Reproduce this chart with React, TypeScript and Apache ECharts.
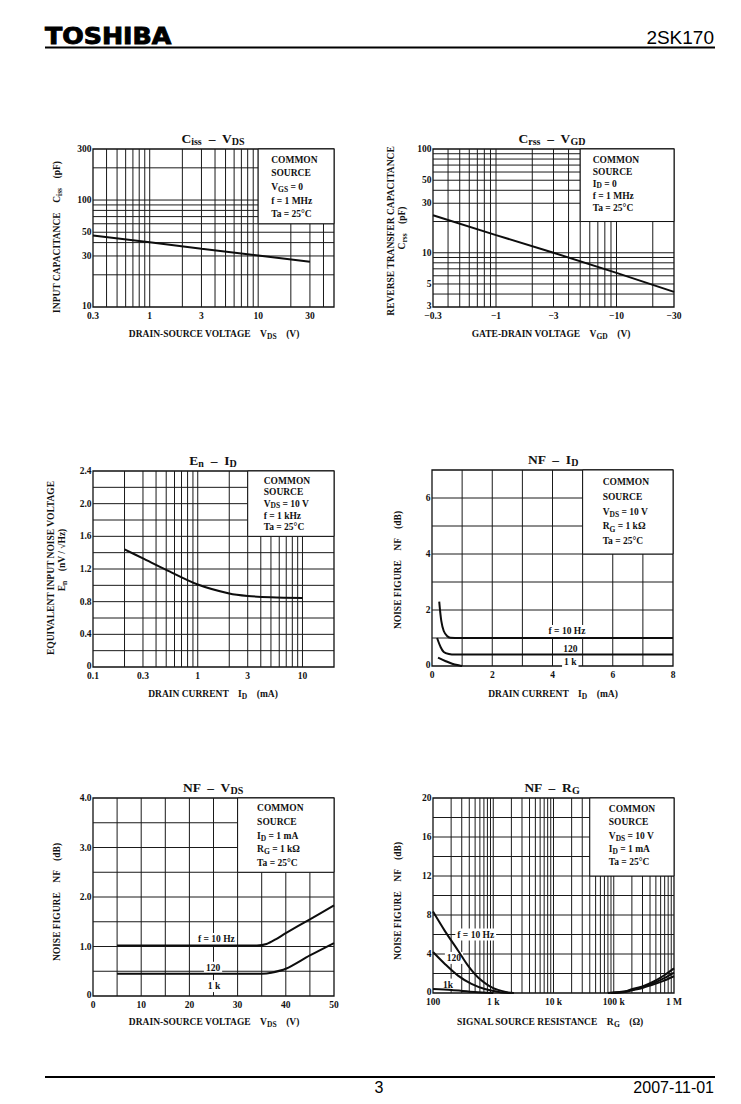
import React, { useEffect, useRef } from "react";
import * as echarts from "echarts";

const SERIF = '"Liberation Serif", "DejaVu Serif", serif';
const SANS = '"Liberation Sans", Arial, sans-serif';
const INK = "#111";

// ---------- Panel 1: Ciss – VDS ----------
const cissVds = [0.3, 1, 3, 10, 30];
const cissPf = [46.5, 40.3, 35, 30.3, 26.5];
const cissXTicks = [0.3, 1, 3, 10, 30];
const cissXTickLabels = ["0.3", "1", "3", "10", "30"];
const cissYTicks = [10, 30, 50, 100, 300];
const cissYTickLabels = ["10", "30", "50", "100", "300"];

// ---------- Panel 2: Crss – VGD (|VGD|) ----------
const crssVgd = [0.3, 1, 3, 10, 30];
const crssPf = [23, 14.8, 10, 6.4, 4.2];
const crssXTicks = [0.3, 1, 3, 10, 30];
const crssXTickLabels = ["\u22120.3", "\u22121", "\u22123", "\u221210", "\u221230"];
const crssYTicks = [3, 5, 10, 30, 50, 100];
const crssYTickLabels = ["3", "5", "10", "30", "50", "100"];

// ---------- Panel 3: En – ID ----------
const enId = [0.2, 0.3, 0.5, 1, 2, 3, 5, 10];
const enNv = [1.44, 1.33, 1.19, 1.01, 0.9, 0.87, 0.855, 0.845];
const enXTicks = [0.1, 0.3, 1, 3, 10];
const enXTickLabels = ["0.1", "0.3", "1", "3", "10"];
const enYTicks = [0, 0.4, 0.8, 1.2, 1.6, 2.0, 2.4];
const enYTickLabels = ["0", "0.4", "0.8", "1.2", "1.6", "2.0", "2.4"];
const enHLines = [0.2, 0.4, 0.6, 0.8, 1.0, 1.2, 1.4, 1.6, 1.8, 2.0, 2.2];

// ---------- Panel 4: NF – ID ----------
const nfId10HzX = [0.24, 0.31, 0.39, 0.5, 0.61, 1, 8];
const nfId10HzY = [2.3, 1.6, 1.25, 1.07, 1.01, 1.0, 1.0];
const nfId120X = [0.17, 0.28, 0.39, 0.56, 0.78, 1, 8];
const nfId120Y = [1.0, 0.69, 0.5, 0.43, 0.41, 0.41, 0.41];
const nfId1kX = [0.2, 0.44, 0.67, 0.94, 1.0];
const nfId1kY = [0.3, 0.18, 0.08, 0.01, 0];
const nfIdXTicks = [0, 2, 4, 6, 8];
const nfIdYTicks = [0, 2, 4, 6];
const nfIdVLines = [1, 2, 3, 4, 5, 6, 7];
const nfIdHLines = [1, 2, 3, 4, 5, 6];

// ---------- Panel 5: NF – VDS ----------
const nfVds10HzX = [5, 34, 36, 38, 40, 45, 50];
const nfVds10HzY = [1.02, 1.02, 1.05, 1.15, 1.27, 1.55, 1.83];
const nfVds120X = [5, 35, 37, 40, 45, 50];
const nfVds120Y = [0.45, 0.45, 0.47, 0.55, 0.82, 1.07];
const nfVdsXTicks = [0, 10, 20, 30, 40, 50];
const nfVdsYTicks = [0, 1, 2, 3, 4];
const nfVdsYTickLabels = ["0", "1.0", "2.0", "3.0", "4.0"];
const nfVdsVLines = [5, 10, 15, 20, 25, 30, 35, 40, 45];
const nfVdsHLines = [0.5, 1, 1.5, 2, 2.5, 3, 3.5];

// ---------- Panel 6: NF – RG ----------
const nfRgL10HzX = [100, 156, 260, 381, 560, 1000, 1760, 2200];
const nfRgL10HzY = [8.35, 6.4, 4.36, 2.8, 1.6, 0.5, 0.06, 0];
const nfRgL120X = [100, 156, 260, 435, 724, 1370, 2000];
const nfRgL120Y = [4.2, 3.0, 1.78, 0.93, 0.41, 0.06, 0];
const nfRgL1kX = [100, 202, 493, 1000];
const nfRgL1kY = [0.41, 0.3, 0.1, 0];
const nfRgRAX = [80000, 150000, 200000, 300000, 500000, 700000, 1000000];
const nfRgRAY = [0, 0.15, 0.38, 0.68, 1.3, 1.85, 2.53];
const nfRgRBX = [90000, 150000, 200000, 300000, 500000, 700000, 1000000];
const nfRgRBY = [0, 0.12, 0.32, 0.6, 1.12, 1.55, 2.1];
const nfRgRCX = [100000, 150000, 200000, 300000, 500000, 700000, 1000000];
const nfRgRCY = [0, 0.1, 0.28, 0.52, 0.96, 1.3, 1.72];
const nfRgXTicks = [100, 1000, 10000, 100000, 1000000];
const nfRgXTickLabels = ["100", "1 k", "10 k", "100 k", "1 M"];
const nfRgYTicks = [0, 4, 8, 12, 16, 20];
const nfRgHLines = [2, 4, 6, 8, 10, 12, 14, 16, 18];

// grid line positions of a 1-2-...-9 log grid strictly inside (lo, hi)
function logGrid(lo: number, hi: number): number[] {
  const out: number[] = [];
  for (let k = -3; k <= 7; k++) {
    for (let m = 1; m <= 9; m++) {
      const v = +(m * Math.pow(10, k)).toPrecision(6);
      if (v > lo * 1.0001 && v < hi * 0.9999) out.push(v);
    }
  }
  return out;
}

const zip = (xs: number[], ys: number[]) => xs.map((x, i) => [x, ys[i]]);

interface Panel {
  grid: { left: number; top: number; width: number; height: number };
  xLog: boolean;
  yLog: boolean;
  xMin: number;
  xMax: number;
  yMin: number;
  yMax: number;
  vLines: number[];
  hLines: number[];
  xTicks: number[];
  xTickLabels: string[];
  yTicks: number[];
  yTickLabels: string[];
  box: [number, number, number, number];
  boxText: string[];
  boxPad: [number, number];
  boxLine: number;
  labels: { x: number; y: number; text: string }[];
  curves: { data: number[][]; smooth: boolean }[];
}

const panels: Panel[] = [
  {
    grid: { left: 93, top: 149, width: 241, height: 158 },
    xLog: true, yLog: true, xMin: 0.3, xMax: 50, yMin: 10, yMax: 300,
    vLines: logGrid(0.3, 50), hLines: logGrid(10, 300),
    xTicks: cissXTicks, xTickLabels: cissXTickLabels,
    yTicks: cissYTicks, yTickLabels: cissYTickLabels,
    box: [10, 60, 50, 300],
    boxText: ["COMMON", "SOURCE", "V{s|GS} = 0", "f = 1 MHz", "Ta = 25°C"],
    boxPad: [13, 4], boxLine: 13.6,
    labels: [],
    curves: [{ data: zip(cissVds, cissPf), smooth: false }],
  },
  {
    grid: { left: 433, top: 149, width: 241, height: 158 },
    xLog: true, yLog: true, xMin: 0.3, xMax: 30, yMin: 3, yMax: 100,
    vLines: logGrid(0.3, 30), hLines: logGrid(3, 100),
    xTicks: crssXTicks, xTickLabels: crssXTickLabels,
    yTicks: crssYTicks, yTickLabels: crssYTickLabels,
    box: [5, 20, 30, 100],
    boxText: ["COMMON", "SOURCE", "I{s|D} = 0", "f = 1 MHz", "Ta = 25°C"],
    boxPad: [12.5, 4.5], boxLine: 12.1,
    labels: [],
    curves: [{ data: zip(crssVgd, crssPf), smooth: false }],
  },
  {
    grid: { left: 93, top: 471, width: 241, height: 196 },
    xLog: true, yLog: false, xMin: 0.1, xMax: 20, yMin: 0, yMax: 2.4,
    vLines: logGrid(0.1, 20), hLines: enHLines,
    xTicks: enXTicks, xTickLabels: enXTickLabels,
    yTicks: enYTicks, yTickLabels: enYTickLabels,
    box: [3, 1.6, 20, 2.4],
    boxText: ["COMMON", "SOURCE", "V{s|DS} = 10 V", "f = 1 kHz", "Ta = 25°C"],
    boxPad: [16, 4], boxLine: 11.6,
    labels: [],
    curves: [{ data: zip(enId, enNv), smooth: true }],
  },
  {
    grid: { left: 432, top: 470, width: 241, height: 196 },
    xLog: false, yLog: false, xMin: 0, xMax: 8, yMin: 0, yMax: 7,
    vLines: nfIdVLines, hLines: nfIdHLines,
    xTicks: nfIdXTicks, xTickLabels: nfIdXTicks.map(String),
    yTicks: nfIdYTicks, yTickLabels: nfIdYTicks.map(String),
    box: [5, 4, 8, 7],
    boxText: ["COMMON", "SOURCE", "V{s|DS} = 10 V", "R{s|G} = 1 kΩ", "Ta = 25°C"],
    boxPad: [20, 5], boxLine: 14.6,
    labels: [
      { x: 4.48, y: 1.25, text: "f = 10 Hz" },
      { x: 4.59, y: 0.6, text: "120" },
      { x: 4.59, y: 0.15, text: "1 k" },
    ],
    curves: [
      { data: zip(nfId10HzX, nfId10HzY), smooth: true },
      { data: zip(nfId120X, nfId120Y), smooth: true },
      { data: zip(nfId1kX, nfId1kY), smooth: true },
    ],
  },
  {
    grid: { left: 93, top: 798, width: 241, height: 198 },
    xLog: false, yLog: false, xMin: 0, xMax: 50, yMin: 0, yMax: 4,
    vLines: nfVdsVLines, hLines: nfVdsHLines,
    xTicks: nfVdsXTicks, xTickLabels: nfVdsXTicks.map(String),
    yTicks: nfVdsYTicks, yTickLabels: nfVdsYTickLabels,
    box: [30, 2.5, 50, 4],
    boxText: ["COMMON", "SOURCE", "I{s|D} = 1 mA", "R{s|G} = 1 kΩ", "Ta = 25°C"],
    boxPad: [19.5, 3.5], boxLine: 13.6,
    labels: [
      { x: 25.6, y: 1.15, text: "f = 10 Hz" },
      { x: 24.9, y: 0.57, text: "120" },
      { x: 25.1, y: 0.2, text: "1 k" },
    ],
    curves: [
      { data: zip(nfVds10HzX, nfVds10HzY), smooth: true },
      { data: zip(nfVds120X, nfVds120Y), smooth: true },
    ],
  },
  {
    grid: { left: 433, top: 798, width: 241, height: 195 },
    xLog: true, yLog: false, xMin: 100, xMax: 1000000, yMin: 0, yMax: 20,
    vLines: logGrid(100, 1000000), hLines: nfRgHLines,
    xTicks: nfRgXTicks, xTickLabels: nfRgXTickLabels,
    yTicks: nfRgYTicks, yTickLabels: nfRgYTicks.map(String),
    box: [40000, 12, 1000000, 20],
    boxText: ["COMMON", "SOURCE", "V{s|DS} = 10 V", "I{s|D} = 1 mA", "Ta = 25°C"],
    boxPad: [19, 4], boxLine: 13.4,
    labels: [
      { x: 512, y: 6.0, text: "f = 10 Hz" },
      { x: 223, y: 3.6, text: "120" },
      { x: 177, y: 0.86, text: "1k" },
    ],
    curves: [
      { data: zip(nfRgL10HzX, nfRgL10HzY), smooth: true },
      { data: zip(nfRgL120X, nfRgL120Y), smooth: true },
      { data: zip(nfRgL1kX, nfRgL1kY), smooth: true },
      { data: zip(nfRgRAX, nfRgRAY), smooth: true },
      { data: zip(nfRgRBX, nfRgRBY), smooth: true },
      { data: zip(nfRgRCX, nfRgRCY), smooth: true },
    ],
  },
];

// rich text style with a subscript token "s"
function richStyle(size: number, subSize: number, weight: string, lh: number, drop: number) {
  const subLH = Math.max(2, lh - 2 * drop + 0.64 * (subSize - size));
  return {
    fontSize: size,
    fontFamily: SERIF,
    fontWeight: weight,
    fill: INK,
    lineHeight: lh,
    rich: {
      s: {
        fontSize: subSize,
        fontFamily: SERIF,
        fontWeight: weight,
        fill: INK,
        lineHeight: subLH,
        verticalAlign: "bottom",
      },
    },
  };
}

const tickStyle = { fontSize: 9.5, fontFamily: SERIF, fontWeight: "bold", fill: INK };

function makeRenderer(p: Panel) {
  return (_params: any, api: any) => {
    const ch: any[] = [];
    const [L, B] = api.coord([p.xMin, p.yMin]);
    const [R, T] = api.coord([p.xMax, p.yMax]);
    const ln = (x1: number, y1: number, x2: number, y2: number) => ({
      type: "line",
      shape: { x1, y1, x2, y2 },
      style: { stroke: "#1a1a1a", lineWidth: 1 },
    });
    for (const v of p.vLines) {
      const x = api.coord([v, p.yMin])[0];
      ch.push(ln(x, T, x, B));
    }
    for (const v of p.hLines) {
      const y = api.coord([p.xMin, v])[1];
      ch.push(ln(L, y, R, y));
    }
    const [bx0, by0] = api.coord([p.box[0], p.box[3]]);
    const [bx1, by1] = api.coord([p.box[2], p.box[1]]);
    ch.push({
      type: "rect",
      shape: { x: bx0, y: by0, width: bx1 - bx0, height: by1 - by0 },
      style: { fill: "#fff", stroke: "#111", lineWidth: 1 },
    });
    ch.push({
      type: "text",
      x: bx0 + p.boxPad[0],
      y: by0 + p.boxPad[1],
      style: {
        ...richStyle(9.5, 7.5, "bold", p.boxLine, 2.5),
        text: p.boxText.join("\n"),
        align: "left",
        verticalAlign: "top",
      },
    });
    for (const lb of p.labels) {
      const [x, y] = api.coord([lb.x, lb.y]);
      ch.push({
        type: "text",
        x,
        y,
        style: {
          ...tickStyle,
          text: lb.text,
          align: "center",
          verticalAlign: "middle",
          backgroundColor: "#fff",
          padding: [1, 2],
        },
      });
    }
    p.xTicks.forEach((v, i) => {
      const x = api.coord([v, p.yMin])[0];
      ch.push({
        type: "text",
        x,
        y: B + 8.5,
        style: { ...tickStyle, text: p.xTickLabels[i], align: "center", verticalAlign: "middle" },
      });
    });
    p.yTicks.forEach((v, i) => {
      const y = api.coord([p.xMin, v])[1];
      ch.push({
        type: "text",
        x: L - 1.5,
        y: v === p.yMin ? y - 1.5 : y,
        style: { ...tickStyle, text: p.yTickLabels[i], align: "right", verticalAlign: "middle" },
      });
    });
    return { type: "group", children: ch };
  };
}

// page decorations: titles & axis names (pixel layout)
const titleTexts = [
  { x: 213, y: 138, t: "C{s|iss}  –  V{s|DS}" },
  { x: 552, y: 138, t: "C{s|rss}  –  V{s|GD}" },
  { x: 213, y: 460, t: "E{s|n}  –  I{s|D}" },
  { x: 553, y: 459, t: "NF  –  I{s|D}" },
  { x: 213, y: 787, t: "NF  –  V{s|DS}" },
  { x: 552, y: 787, t: "NF  –  R{s|G}" },
];
const xNameTexts = [
  { x: 214, y: 334, t: "DRAIN-SOURCE VOLTAGE    V{s|DS}    (V)" },
  { x: 551, y: 334, t: "GATE-DRAIN VOLTAGE    V{s|GD}    (V)" },
  { x: 213, y: 694, t: "DRAIN CURRENT    I{s|D}    (mA)" },
  { x: 553, y: 694, t: "DRAIN CURRENT    I{s|D}    (mA)" },
  { x: 214, y: 1022, t: "DRAIN-SOURCE VOLTAGE    V{s|DS}    (V)" },
  { x: 550, y: 1022, t: "SIGNAL SOURCE RESISTANCE    R{s|G}    (Ω)" },
];
const yNameTexts = [
  { x: 57, y: 237, t: "INPUT CAPACITANCE    C{s|iss}    (pF)" },
  { x: 391, y: 231, t: "REVERSE TRANSFER CAPACITANCE" },
  { x: 402, y: 228, t: "C{s|rss}    (pF)" },
  { x: 51, y: 568, t: "EQUIVALENT INPUT NOISE VOLTAGE" },
  { x: 62, y: 560, t: "E{s|n}    (nV / √Hz)" },
  { x: 398, y: 570, t: "NOISE FIGURE    NF    (dB)" },
  { x: 57, y: 902, t: "NOISE FIGURE    NF    (dB)" },
  { x: 398, y: 901, t: "NOISE FIGURE    NF    (dB)" },
];

function buildOption() {
  const grid: any[] = [];
  const xAxis: any[] = [];
  const yAxis: any[] = [];
  const series: any[] = [];
  panels.forEach((p, i) => {
    grid.push({
      ...p.grid,
      show: true,
      borderColor: "#111",
      borderWidth: 1.3,
      backgroundColor: "#fff",
    });
    const axisBase = {
      axisLine: { show: false },
      axisTick: { show: false },
      axisLabel: { show: false },
      splitLine: { show: false },
    };
    xAxis.push({
      ...axisBase,
      gridIndex: i,
      type: p.xLog ? "log" : "value",
      logBase: 10,
      min: p.xMin,
      max: p.xMax,
    });
    yAxis.push({
      ...axisBase,
      gridIndex: i,
      type: p.yLog ? "log" : "value",
      logBase: 10,
      min: p.yMin,
      max: p.yMax,
    });
    series.push({
      type: "custom",
      coordinateSystem: "cartesian2d",
      xAxisIndex: i,
      yAxisIndex: i,
      clip: false,
      silent: true,
      z: 1,
      data: [[p.xMin, p.yMin]],
      renderItem: makeRenderer(p),
    });
    p.curves.forEach((c) => {
      series.push({
        type: "line",
        xAxisIndex: i,
        yAxisIndex: i,
        data: c.data,
        symbol: "none",
        showSymbol: false,
        smooth: c.smooth ? 0.3 : false,
        silent: true,
        z: 3,
        lineStyle: { color: "#0d0d0d", width: 2 },
      });
    });
  });

  const graphic: any[] = [
    {
      type: "text",
      x: 45,
      y: 36,
      scaleX: 1.1,
      style: {
        text: "TOSHIBA",
        fontFamily: '"DejaVu Sans", Arial, sans-serif',
        fontWeight: "bold",
        fontSize: 23,
        fill: "#000",
        stroke: "#000",
        lineWidth: 0.9,
        align: "left",
        verticalAlign: "middle",
      },
    },
    {
      type: "text",
      x: 714,
      y: 37,
      style: { text: "2SK170", fontFamily: SANS, fontSize: 19, fill: "#000", align: "right", verticalAlign: "middle" },
    },
    { type: "line", shape: { x1: 45, y1: 47.5, x2: 715, y2: 47.5 }, style: { stroke: "#000", lineWidth: 2 } },
    { type: "line", shape: { x1: 45, y1: 1077, x2: 715, y2: 1077 }, style: { stroke: "#000", lineWidth: 2 } },
    {
      type: "text",
      x: 379,
      y: 1087,
      style: { text: "3", fontFamily: SANS, fontSize: 16, fill: "#000", align: "center", verticalAlign: "middle" },
    },
    {
      type: "text",
      x: 714,
      y: 1087,
      style: { text: "2007-11-01", fontFamily: SANS, fontSize: 16, fill: "#000", align: "right", verticalAlign: "middle" },
    },
  ];
  titleTexts.forEach((t) =>
    graphic.push({
      type: "text",
      x: t.x,
      y: t.y,
      style: { ...richStyle(13.5, 10, "bold", 16, 3), text: t.t, align: "center", verticalAlign: "middle" },
    })
  );
  xNameTexts.forEach((t) =>
    graphic.push({
      type: "text",
      x: t.x,
      y: t.y,
      style: { ...richStyle(9.5, 7.5, "bold", 13, 2.5), text: t.t, align: "center", verticalAlign: "middle" },
    })
  );
  yNameTexts.forEach((t) =>
    graphic.push({
      type: "text",
      x: t.x,
      y: t.y,
      rotation: Math.PI / 2,
      style: { ...richStyle(9.5, 7.5, "bold", 13, 2.5), text: t.t, align: "center", verticalAlign: "middle" },
    })
  );

  return {
    animation: false,
    backgroundColor: "#fff",
    grid,
    xAxis,
    yAxis,
    series,
    graphic,
  };
}

export default function App() {
  const ref = useRef<HTMLDivElement>(null);
  useEffect(() => {
    const chart = echarts.init(ref.current!, undefined, { renderer: "svg" });
    chart.setOption(buildOption() as any);
    return () => chart.dispose();
  }, []);
  return (
    <div
      ref={ref}
      style={{ position: "absolute", left: 0, top: 0, width: 741, height: 1104, background: "#fff" }}
    />
  );
}
